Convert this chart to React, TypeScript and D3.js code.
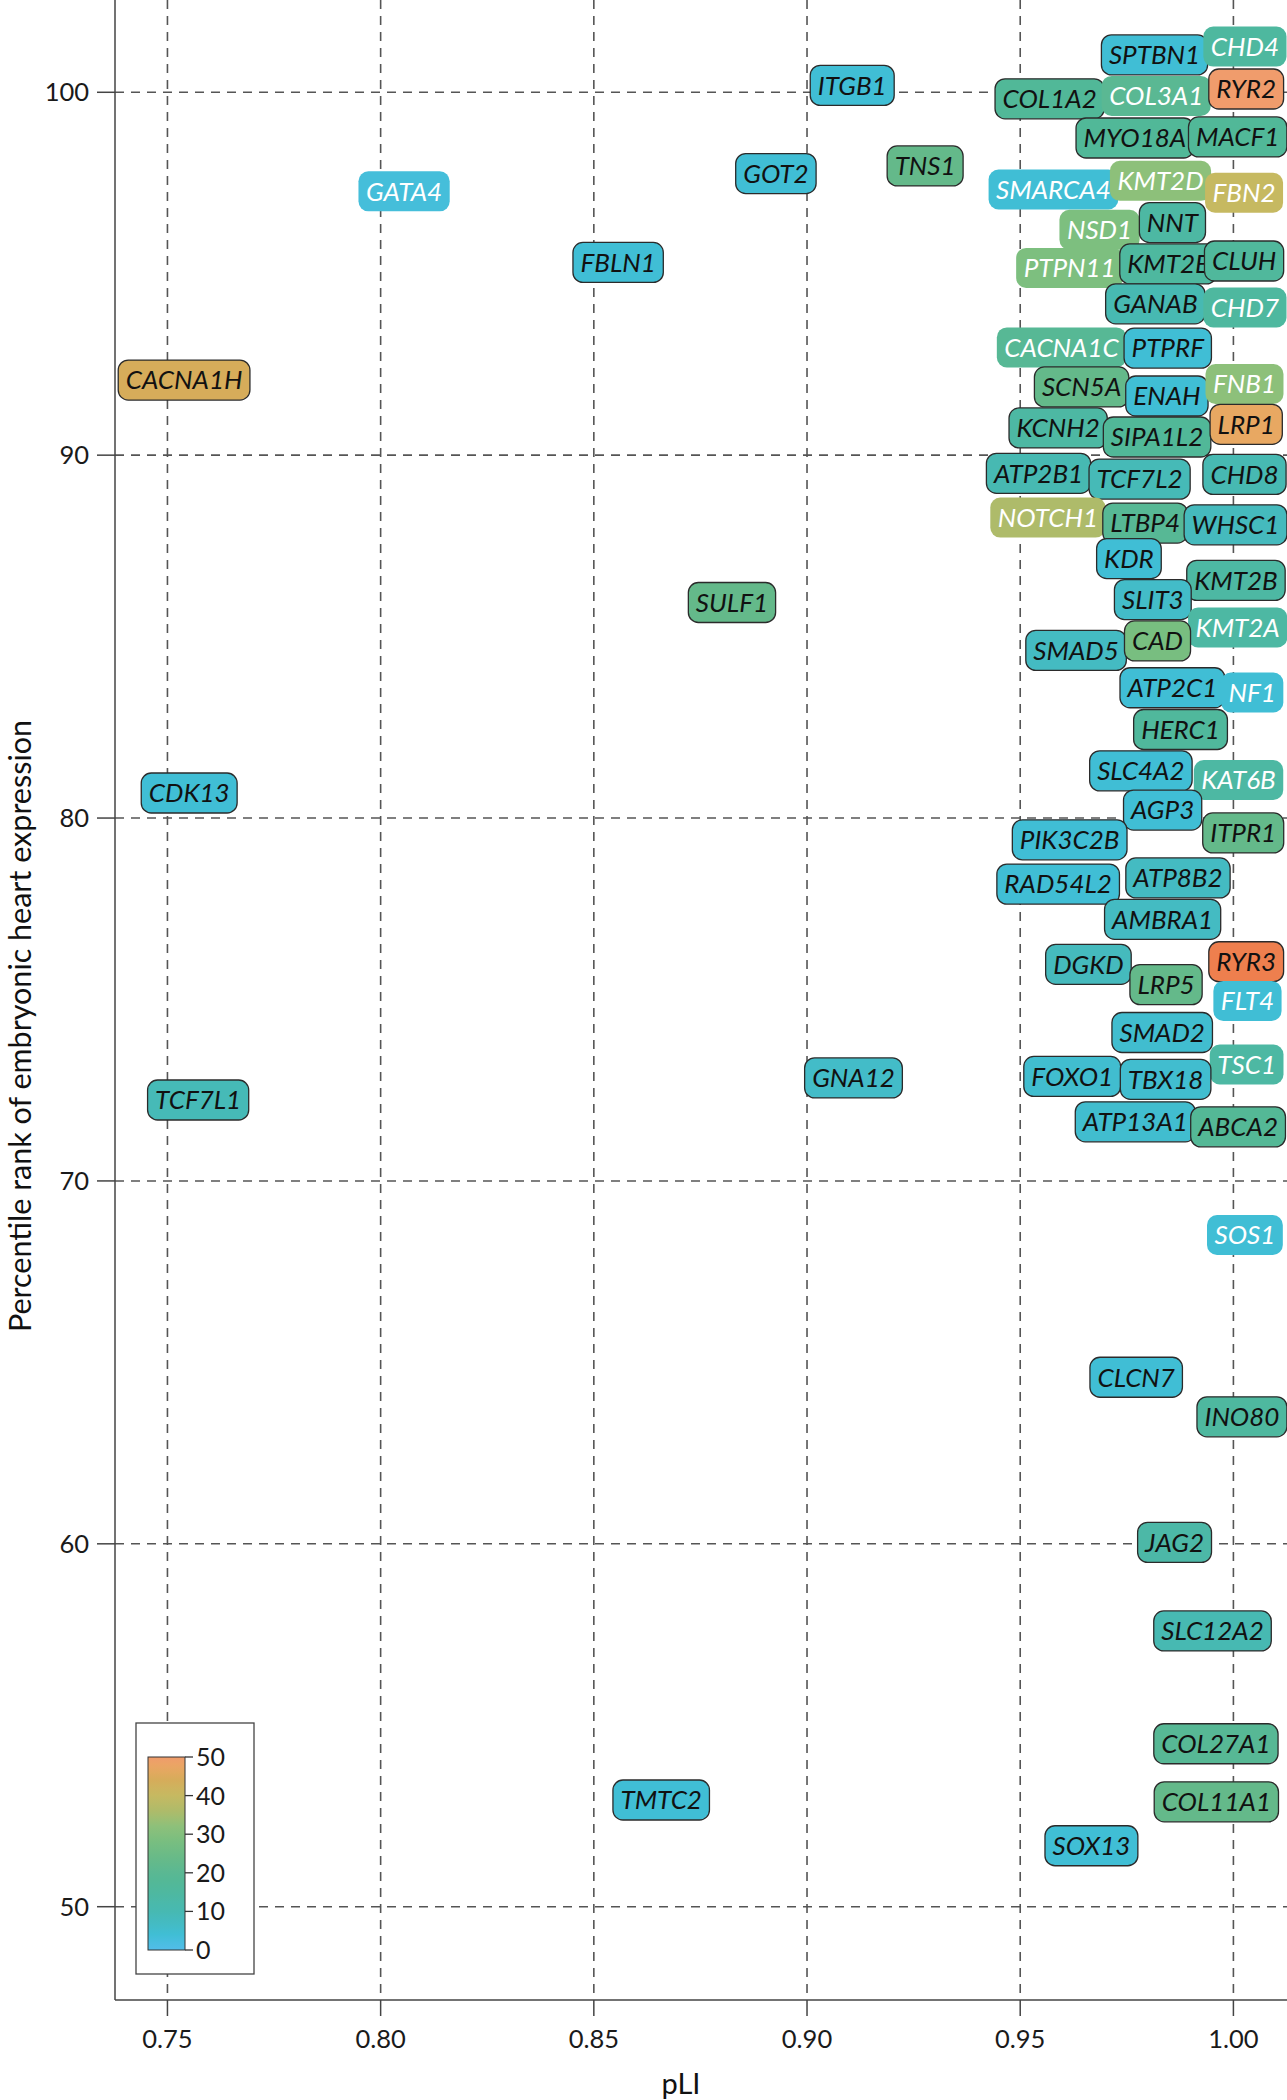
import React, { useEffect, useRef } from 'react';
import * as d3 from 'd3';

// ---- data ----
const genes = [
  'SPTBN1','CHD4','COL1A2','COL3A1','RYR2','MYO18A','MACF1','SMARCA4','KMT2D','FBN2',
  'NSD1','NNT','PTPN11','KMT2E','CLUH','GANAB','CHD7','CACNA1C','PTPRF','SCN5A',
  'ENAH','FNB1','KCNH2','SIPA1L2','LRP1','ATP2B1','TCF7L2','CHD8','NOTCH1','LTBP4',
  'WHSC1','KDR','KMT2B','SLIT3','KMT2A','SMAD5','CAD','ATP2C1','NF1','HERC1',
  'SLC4A2','KAT6B','AGP3','ITPR1','PIK3C2B','RAD54L2','ATP8B2','AMBRA1','DGKD','RYR3',
  'LRP5','FLT4','SMAD2','TSC1','FOXO1','TBX18','ATP13A1','ABCA2','SOS1','CLCN7',
  'INO80','JAG2','SLC12A2','COL27A1','COL11A1','SOX13','ITGB1','GOT2','TNS1','FBLN1',
  'GATA4','CACNA1H','SULF1','CDK13','TCF7L1','GNA12','TMTC2'
];
const pLI = [
  0.9815,1.0027,0.9569,0.9819,1.0030,0.9769,1.0010,0.9578,0.9829,1.0025,
  0.9686,0.9857,0.9616,0.9847,1.0025,0.9817,1.0027,0.9597,0.9846,0.9644,
  0.9844,1.0026,0.9589,0.9821,1.0030,0.9543,0.9780,1.0026,0.9565,0.9793,
  1.0005,0.9755,1.0006,0.9811,1.0010,0.9631,0.9822,0.9857,1.0044,0.9876,
  0.9783,1.0012,0.9834,1.0023,0.9616,0.9589,0.9870,0.9834,0.9660,1.0030,
  0.9842,1.0033,0.9833,1.0031,0.9622,0.9841,0.9770,1.0011,1.0027,0.9772,
  1.0020,0.9862,0.9951,0.9959,0.9960,0.9667,0.9106,0.8927,0.9277,0.8557,
  0.8055,0.7539,0.8824,0.7551,0.7572,0.9109,0.8658
];
const rank = [
  101.03,101.26,99.82,99.90,100.09,98.74,98.77,97.32,97.56,97.23,
  96.21,96.41,95.16,95.27,95.35,94.17,94.07,92.97,92.95,91.88,
  91.63,91.96,90.75,90.50,90.85,89.50,89.34,89.47,88.28,88.13,
  88.08,87.15,86.55,86.02,85.25,84.62,84.88,83.59,83.46,82.44,
  81.30,81.05,80.22,79.59,79.40,78.18,78.35,77.21,75.97,76.04,
  75.41,74.96,74.09,73.21,72.88,72.80,71.63,71.49,68.51,64.59,
  63.50,60.04,57.60,54.49,52.89,51.68,100.19,97.76,97.97,95.31,
  97.27,92.07,85.94,80.69,72.23,72.84,52.94
];
const score = [
  4,15,17,20,50,17,17,4,32,40,
  29,14,29,15,16,10,15,19,4,23,
  4,32,14,17,47,10,9,10,36,19,
  8,4,14,6,14,7,28,4,4,16,
  4,14,4,23,4,4,7,7,8,55,
  23,4,5,14,5,5,5,18,4,4,
  15,13,10,19,23,4,4,4,23,4,
  3,44,23,4,9,6,4
];
const whiteTextGenes = [
  'CHD4','COL3A1','SMARCA4','KMT2D','FBN2','NSD1','PTPN11','CHD7','CACNA1C','FNB1',
  'NOTCH1','KMT2A','NF1','KAT6B','FLT4','TSC1','SOS1','GATA4'
];

const colorStops = [0, 4, 7, 10, 14, 17, 20, 23, 28, 32, 36, 40, 44, 47, 50, 55];
const colorValues = [
  '#52BDEA','#40BED5','#44BBC2','#47B9B2','#4DB8A3','#51B898','#5AB893','#64B98A',
  '#78BE80','#8DC07A','#AEBB6A','#C6B961','#D6AC5A','#E8A862','#F09C6C','#EE7F4E'
];
const xTicks = [0.75, 0.8, 0.85, 0.9, 0.95, 1.0];
const yTicks = [50, 60, 70, 80, 90, 100];
const legendTicks = [0, 10, 20, 30, 40, 50];

const FONT = 'Lato, "Open Sans", sans-serif';

export default function App() {
  const ref = useRef<SVGSVGElement>(null);

  useEffect(() => {
    const draw = () => {
      const svg = d3.select(ref.current);
      svg.selectAll('*').remove();
      const left = 115, right = 1287, top = 0, bottom = 2000;
      const x = d3.scaleLinear().domain([0.7377, 1.01257]).range([left, right]);
      const y = d3.scaleLinear().domain([47.429, 102.543]).range([bottom, top]);
      const color = d3.scaleLinear<string>().domain(colorStops).range(colorValues).clamp(true);

      const g = svg.append('g');
      // grid
      g.selectAll('line.vg').data(xTicks).enter().append('line')
        .attr('x1', d => x(d)).attr('x2', d => x(d)).attr('y1', top).attr('y2', bottom)
        .attr('stroke', '#555').attr('stroke-width', 1.6).attr('stroke-dasharray', '9,7');
      g.selectAll('line.hg').data(yTicks).enter().append('line')
        .attr('y1', d => y(d)).attr('y2', d => y(d)).attr('x1', left).attr('x2', right)
        .attr('stroke', '#555').attr('stroke-width', 1.6).attr('stroke-dasharray', '9,7');

      // axes
      g.append('line').attr('x1', left).attr('x2', left).attr('y1', top).attr('y2', bottom)
        .attr('stroke', '#444').attr('stroke-width', 1.5);
      g.append('line').attr('x1', left).attr('x2', right).attr('y1', bottom).attr('y2', bottom)
        .attr('stroke', '#444').attr('stroke-width', 1.5);
      g.selectAll('line.yt').data(yTicks).enter().append('line')
        .attr('x1', left - 18).attr('x2', left).attr('y1', d => y(d)).attr('y2', d => y(d))
        .attr('stroke', '#444').attr('stroke-width', 1.5);
      g.selectAll('line.xt').data(xTicks).enter().append('line')
        .attr('y1', bottom).attr('y2', bottom + 16).attr('x1', d => x(d)).attr('x2', d => x(d))
        .attr('stroke', '#444').attr('stroke-width', 1.5);
      g.selectAll('text.yl').data(yTicks).enter().append('text')
        .attr('x', left - 26).attr('y', d => y(d)).attr('dy', '0.36em')
        .attr('text-anchor', 'end').attr('font-family', FONT).attr('font-size', 25.5)
        .attr('fill', '#1a1a1a').text(d => String(d));
      g.selectAll('text.xl').data(xTicks).enter().append('text')
        .attr('x', d => x(d)).attr('y', bottom + 48)
        .attr('text-anchor', 'middle').attr('font-family', FONT).attr('font-size', 25.5)
        .attr('fill', '#1a1a1a').text(d => d3.format('.2f')(d));

      // axis titles
      g.append('text').attr('transform', 'translate(31,1026) rotate(-90)')
        .attr('text-anchor', 'middle').attr('font-family', FONT).attr('font-size', 30.5)
        .attr('fill', '#111').text('Percentile rank of embryonic heart expression');
      g.append('text').attr('x', 681).attr('y', 2094)
        .attr('text-anchor', 'middle').attr('font-family', FONT).attr('font-size', 29)
        .attr('fill', '#111').text('pLI');

      // labels
      const lab = g.append('g');
      genes.forEach((name, i) => {
        const cx = x(pLI[i]);
        const cy = y(rank[i]);
        const white = whiteTextGenes.includes(name);
        const grp = lab.append('g');
        const rect = grp.append('rect');
        const t = grp.append('text')
          .attr('x', cx).attr('y', cy).attr('dy', '0.36em')
          .attr('text-anchor', 'middle').attr('font-family', FONT).attr('font-style', 'italic')
          .attr('font-size', 26).attr('fill', white ? '#ffffff' : '#111111').text(name);
        const tw = (t.node() as SVGTextElement).getComputedTextLength();
        const w = tw + 15;
        const h = 40;
        rect.attr('x', cx - w / 2).attr('y', cy - h / 2).attr('width', w).attr('height', h)
          .attr('rx', 10).attr('ry', 10)
          .attr('fill', color(score[i]))
          .attr('stroke', white ? 'none' : '#2b2b2b').attr('stroke-width', 1.3);
      });

      // legend
      const lg = g.append('g');
      lg.append('rect').attr('x', 136).attr('y', 1723).attr('width', 118).attr('height', 251)
        .attr('fill', '#fff').attr('stroke', '#444').attr('stroke-width', 1.3);
      const ly = d3.scaleLinear().domain([0, 50]).range([1950, 1757]);
      const defs = svg.append('defs');
      const grad = defs.append('linearGradient').attr('id', 'cbar')
        .attr('x1', 0).attr('y1', 1).attr('x2', 0).attr('y2', 0);
      d3.range(0, 51, 2).forEach(v => {
        grad.append('stop').attr('offset', v / 50).attr('stop-color', color(v));
      });
      lg.append('rect').attr('x', 148).attr('y', ly(50)).attr('width', 37).attr('height', ly(0) - ly(50))
        .attr('fill', 'url(#cbar)').attr('stroke', '#333').attr('stroke-width', 1);
      lg.selectAll('line.lt').data(legendTicks).enter().append('line')
        .attr('x1', 185).attr('x2', 193).attr('y1', d => ly(d)).attr('y2', d => ly(d))
        .attr('stroke', '#333').attr('stroke-width', 1.3);
      lg.selectAll('text.ltl').data(legendTicks).enter().append('text')
        .attr('x', 196).attr('y', d => ly(d)).attr('dy', '0.36em')
        .attr('font-family', FONT).attr('font-size', 25).attr('fill', '#1a1a1a')
        .text(d => String(d));
    };
    draw();
    if ((document as any).fonts && (document as any).fonts.ready) {
      (document as any).fonts.ready.then(draw);
    }
  }, []);

  return (
    <svg ref={ref} width={1287} height={2100}
      style={{ position: 'absolute', left: 0, top: 0, background: '#fff' }} />
  );
}
